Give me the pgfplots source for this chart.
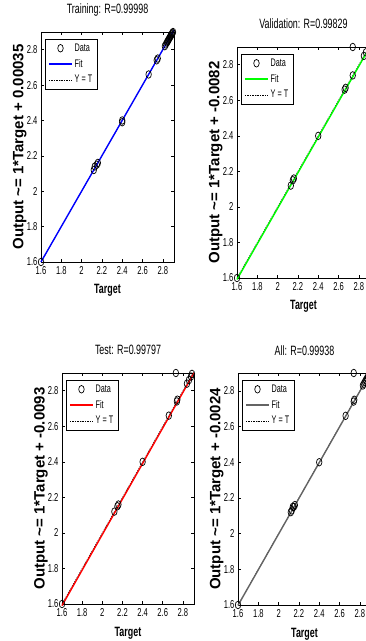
\documentclass[border=0pt]{standalone}
\usepackage{fontspec}
\setmainfont{Liberation Sans}
\newfontfamily\cond{Liberation Sans}[FakeStretch=0.66]
\usepackage{pgfplots}
\pgfplotsset{compat=1.18}
\definecolor{fitgray}{RGB}{100,100,100}
\pgfplotsset{
  regstyle/.style={
    scale only axis, width=133pt, height=230pt,
    xmin=1.6, xmax=2.91, ymin=1.6, ymax=2.9,
    xtick={1.6,1.8,2,2.2,2.4,2.6,2.8},
    ytick={1.6,1.8,2,2.2,2.4,2.6,2.8},
    tick align=inside, major tick length=3pt,
    axis line style={line width=0.8pt},
    tick style={black, line width=0.6pt},
    ticklabel style={font=\cond\fontsize{11.5}{12}\selectfont},
    xticklabel style={yshift=-1pt},
    /pgf/number format/assume math mode=true,
    title style={font=\cond\fontsize{13.5}{15}\selectfont, at={(axis description cs:0.5,1)}, anchor=base, yshift=12pt},
    xlabel style={font=\cond\bfseries\fontsize{13.5}{15}\selectfont, at={(axis description cs:0.5,0)}, anchor=base, yshift=-32pt},
    ylabel style={font=\bfseries\fontsize{15}{16}\selectfont, at={(axis description cs:-0.16,0.5)}, anchor=center},
    xlabel={Target},
    legend style={at={(0.03,0.97)}, anchor=north west, draw=black, line width=0.6pt, font=\cond\fontsize{11}{12}\selectfont, inner xsep=3pt, inner ysep=2.5pt, row sep=2.5pt, cells={anchor=west}},
    legend image code/.code={\draw[mark repeat=2,mark phase=2,#1] plot coordinates {(0pt,0pt) (11.5pt,0pt) (23pt,0pt)};},
    reverse legend,
    clip=false,
  },
  datastyle/.style={only marks, mark=o, mark size=3.8pt, black, line width=0.7pt, mark options={xscale=0.72}},
  ytstyle/.style={black, line width=0.5pt, dash pattern=on 1.5pt off 1pt},
}
\begin{document}
\begin{tikzpicture}
\useasboundingbox (0pt,0pt) rectangle (365pt,641pt);
% Training
\begin{axis}[regstyle, at={(41pt,379pt)}, anchor=south west,
  title={Training: R=0.99998},
  ylabel={Output \textasciitilde= 1*Target + 0.00035}]
\addplot[ytstyle] coordinates {(1.6,1.6) (2.91,2.91)};
\addlegendentry{Y = T}
\addplot[blue, line width=1.4pt] coordinates {(1.6,1.60035) (2.91,2.91035)};
\addlegendentry{Fit}
\addplot[datastyle] coordinates {
(1.6,1.6) (2.12,2.12) (2.13,2.14) (2.15,2.15) (2.16,2.16) (2.40,2.40) (2.40,2.39)
(2.66,2.66) (2.74,2.74) (2.75,2.75)
(2.82,2.82) (2.83,2.83) (2.84,2.84) (2.845,2.845) (2.85,2.85) (2.855,2.855) (2.86,2.86)
(2.865,2.865) (2.87,2.87) (2.875,2.875) (2.88,2.88) (2.885,2.885) (2.89,2.89) (2.895,2.895) (2.90,2.90)};
\addlegendentry{Data}
\end{axis}
% Validation
\begin{axis}[regstyle, at={(237pt,363pt)}, anchor=south west, height=231pt,
  title={Validation: R=0.99829},
  ylabel={Output \textasciitilde= 1*Target + -0.0082}]
\addplot[ytstyle] coordinates {(1.6,1.6) (2.91,2.91)};
\addlegendentry{Y = T}
\addplot[green, line width=1.4pt] coordinates {(1.6,1.5918) (2.91,2.9018)};
\addlegendentry{Fit}
\addplot[datastyle] coordinates {
(1.6,1.6) (2.13,2.12) (2.15,2.15) (2.16,2.16) (2.40,2.40) (2.66,2.66) (2.67,2.67)
(2.74,2.74) (2.74,2.90) (2.85,2.85) (2.87,2.87)};
\addlegendentry{Data}
\end{axis}
% Test
\begin{axis}[regstyle, at={(62pt,37pt)}, anchor=south west, height=231pt, width=132pt,
  title={Test: R=0.99797},
  ylabel={Output \textasciitilde= 1*Target + -0.0093}]
\addplot[ytstyle] coordinates {(1.6,1.6) (2.91,2.91)};
\addlegendentry{Y = T}
\addplot[red, line width=1.4pt] coordinates {(1.6,1.5907) (2.91,2.9007)};
\addlegendentry{Fit}
\addplot[datastyle] coordinates {
(1.6,1.6) (2.12,2.12) (2.15,2.15) (2.16,2.16) (2.40,2.40) (2.66,2.66) (2.74,2.74) (2.745,2.75)
(2.73,2.90) (2.84,2.84) (2.86,2.86) (2.88,2.88) (2.89,2.895)};
\addlegendentry{Data}
\end{axis}
% All
\begin{axis}[regstyle, at={(238pt,36pt)}, anchor=south west, height=232pt,
  title={All: R=0.99938},
  ylabel={Output \textasciitilde= 1*Target + -0.0024}]
\addplot[ytstyle] coordinates {(1.6,1.6) (2.91,2.91)};
\addlegendentry{Y = T}
\addplot[fitgray, line width=1.4pt] coordinates {(1.6,1.5976) (2.91,2.9076)};
\addlegendentry{Fit}
\addplot[datastyle] coordinates {
(1.6,1.6) (2.12,2.12) (2.13,2.13) (2.14,2.15) (2.15,2.15) (2.16,2.16) (2.40,2.40)
(2.66,2.66) (2.74,2.74) (2.745,2.75) (2.74,2.90)
(2.83,2.83) (2.84,2.84) (2.85,2.85) (2.86,2.86) (2.87,2.87) (2.88,2.88) (2.89,2.89) (2.90,2.90)};
\addlegendentry{Data}
\end{axis}
\end{tikzpicture}
\end{document}
